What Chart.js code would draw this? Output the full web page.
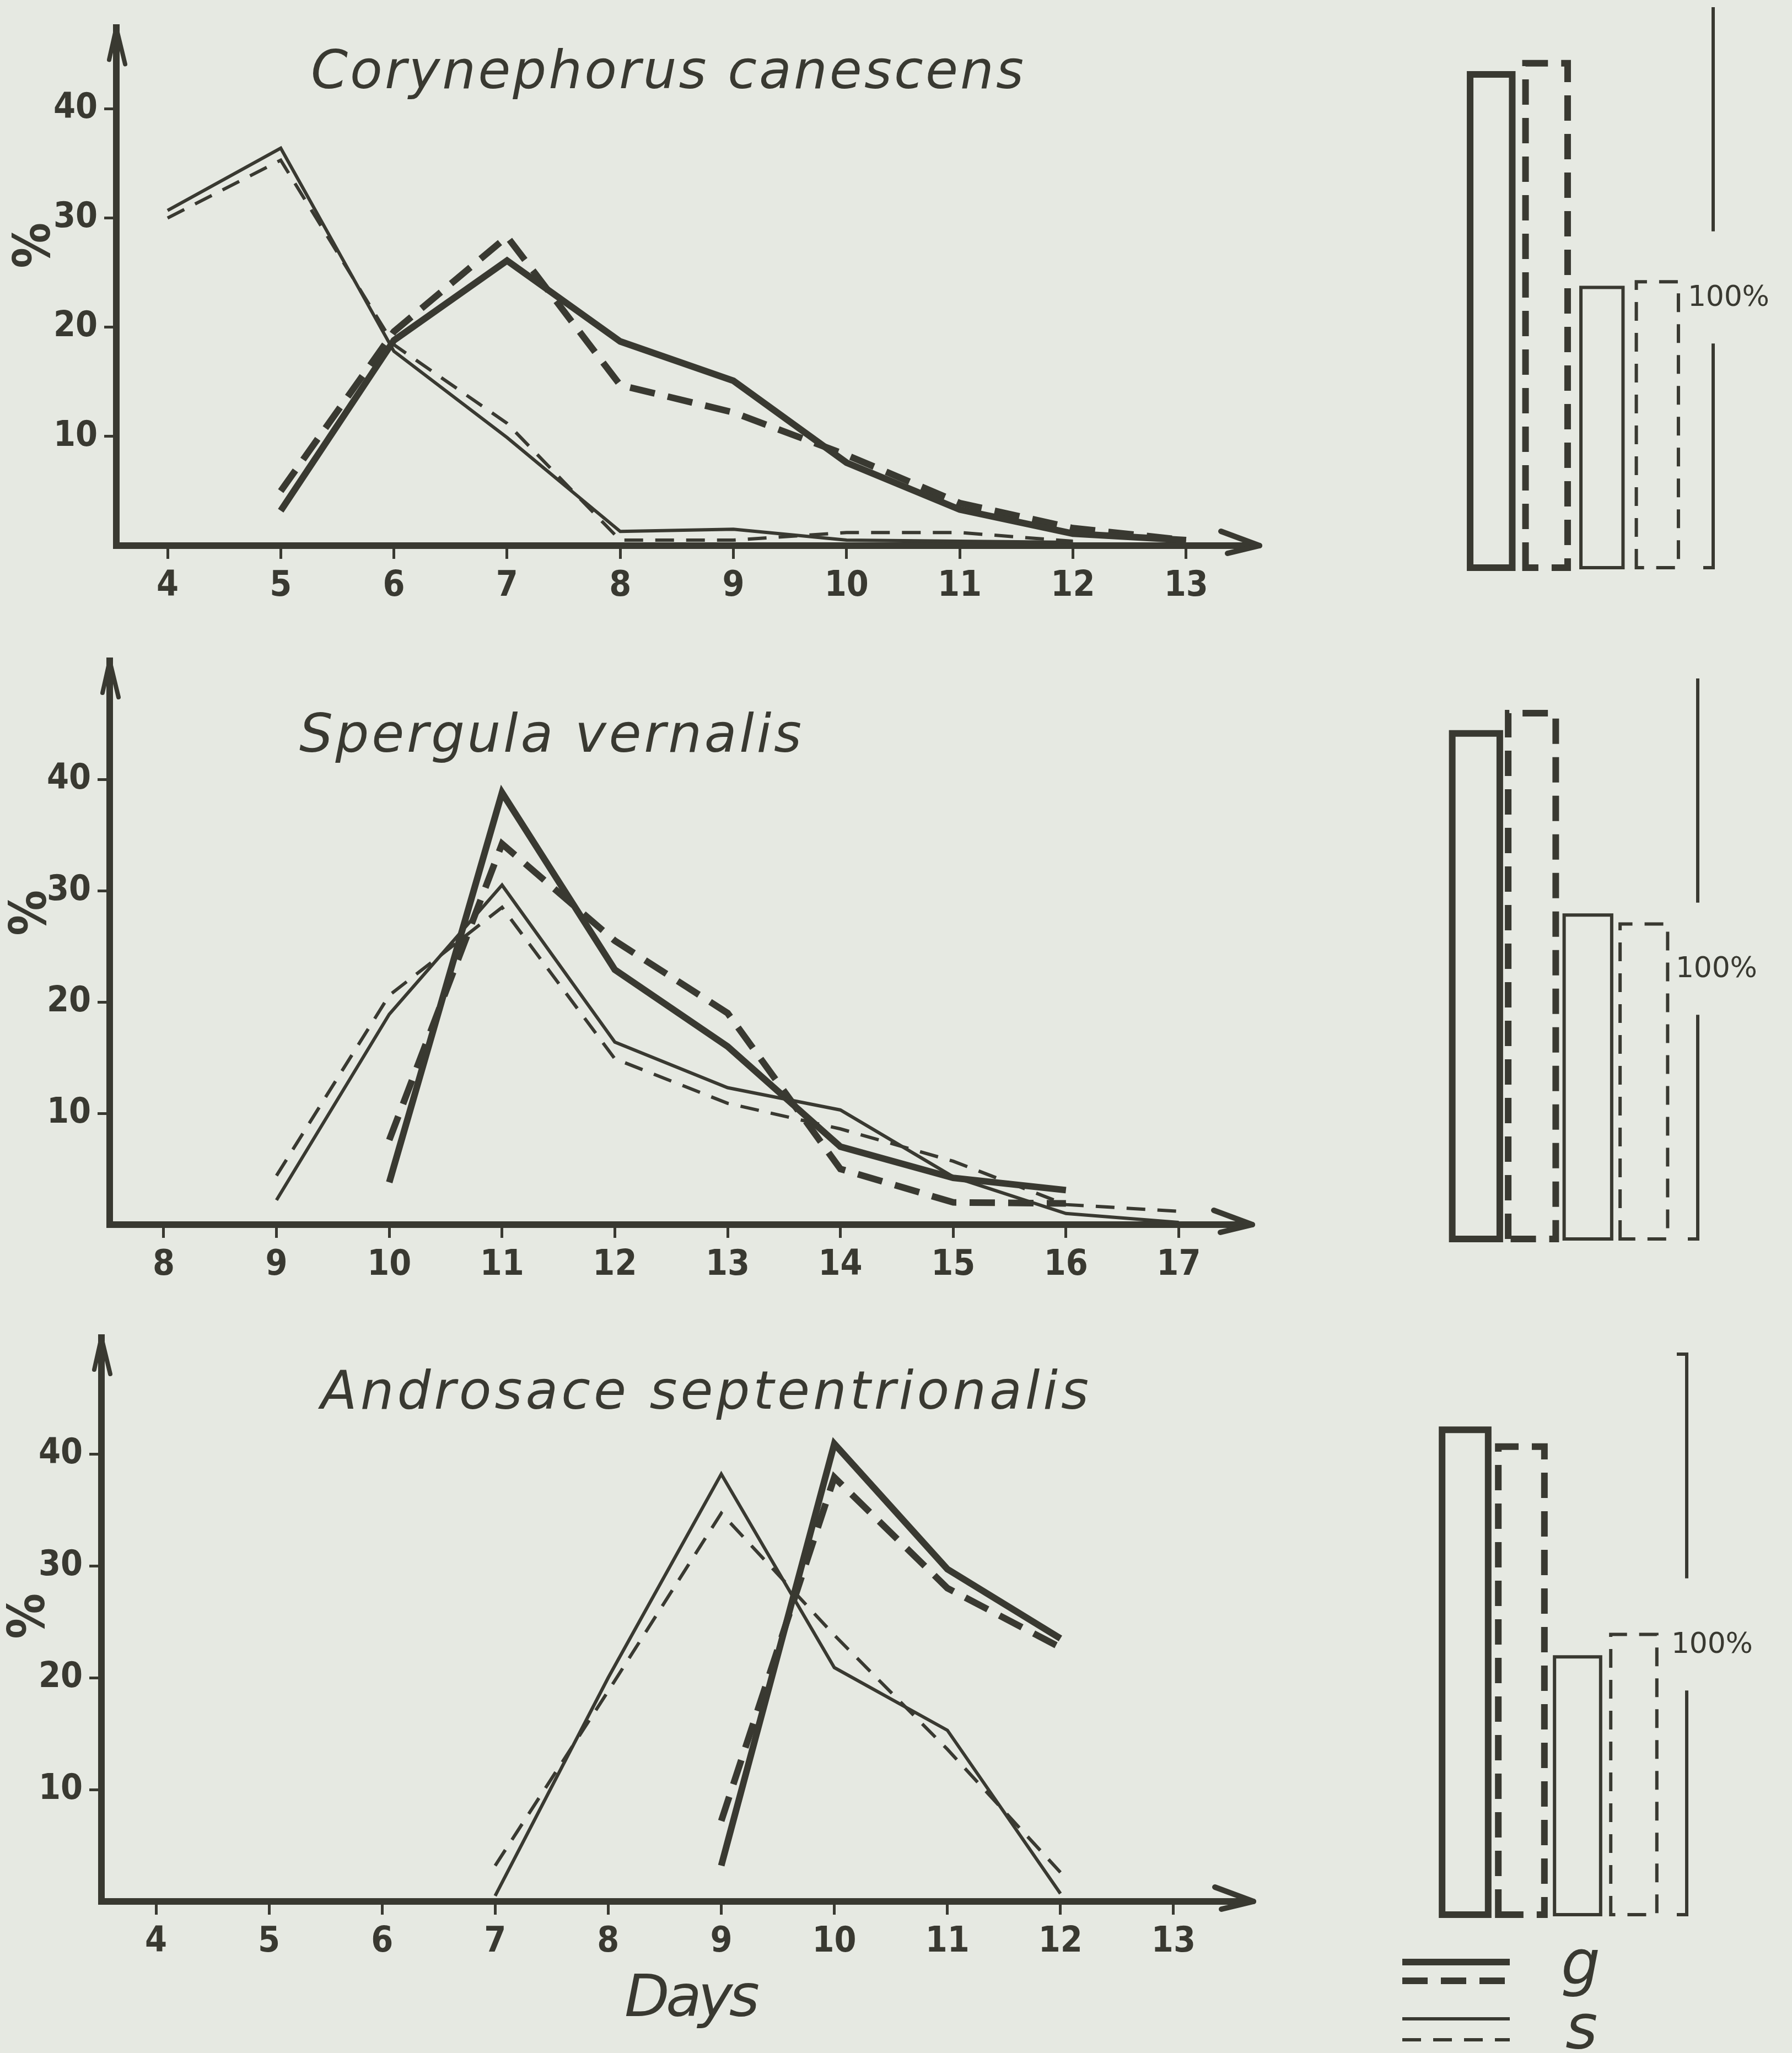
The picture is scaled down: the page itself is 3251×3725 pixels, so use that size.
<!DOCTYPE html>
<html><head><meta charset="utf-8">
<script src="https://cdn.jsdelivr.net/npm/chart.js@4.4.1/dist/chart.umd.min.js"></script>
<style>
html,body{margin:0;padding:0;background:#e6e9e2;}
#wrap{position:relative;width:3251px;height:3725px;overflow:hidden;background:#e6e9e2;}
canvas{position:absolute;left:0;top:0;}
</style></head><body><div id="wrap"></div>
<script>
// ---------------- DATA ----------------
// Corynephorus canescens
const corDaysSmall = [4,5,6,7,8,9,10,11,12];
const corSmallSolid = [30.7,36.4,17.8,9.9,1.3,1.5,0.5,0.4,0.3];
const corSmallDashed = [30.0,35.3,18.4,11.2,0.5,0.5,1.2,1.2,0.4];
const corDaysLarge = [5,6,7,8,9,10,11,12,13];
const corLargeSolid = [3.2,18.8,26.1,18.7,15.1,7.6,3.3,1.1,0.5];
const corLargeDashed = [5.0,19.6,28.3,14.7,12.2,8.3,3.9,1.6,0.5];
const corXTicks = [4,5,6,7,8,9,10,11,12,13];
const corTotals = [88,90,50,51];

// Spergula vernalis
const sperDaysSmall = [9,10,11,12,13,14,15,16,17];
const sperSmallSolid = [2.2,18.9,30.5,16.4,12.3,10.3,4.3,1.0,0.2];
const sperSmallDashed = [4.4,20.6,28.5,14.9,10.9,8.6,5.7,1.8,1.2];
const sperDaysLarge = [10,11,12,13,14,15,16];
const sperLargeSolid = [3.8,38.8,22.9,16.0,7.0,4.2,3.1];
const sperLargeDashed = [7.6,34.2,25.5,19.0,5.0,2.0,1.9];
const sperXTicks = [8,9,10,11,12,13,14,15,16,17];
const sperTotals = [90.2,93.8,57.8,56.2];

// Androsace septentrionalis
const andDaysSmall = [7,8,9,10,11,12];
const andSmallSolid = [0.5,20.0,38.2,20.9,15.3,0.7];
const andSmallDashed = [3.2,18.8,34.7,23.8,13.6,2.6];
const andDaysLarge = [9,10,11,12];
const andLargeSolid = [3.2,40.9,29.7,23.5];
const andLargeDashed = [7.2,37.9,28.0,22.7];
const andXTicks = [4,5,6,7,8,9,10,11,12,13];
const andTotals = [86.5,83.5,46,50];

const yTicks = [10,20,30,40];
const barCats = ['g solid','g dashed','s solid','s dashed'];
const titles = ['Corynephorus canescens','Spergula vernalis','Androsace septentrionalis'];
const xTitle = 'Days';
const yTitle = '%';
const totalLabel = '100%';

// ---------------- STYLE / LAYOUT ----------------
const W = 3251, H = 3725, INK = '#393931';
const TICKFONT = '"Liberation Sans Narrow","DejaVu Sans Condensed",sans-serif';
const TITLEFONT = '"DejaVu Sans","Open Sans",sans-serif';
const YW = 200, XH = 160;
const wrap = document.getElementById('wrap');

const styles = {
  sSolid: {w:6, dash:[]},
  sDashed:{w:6, dash:[34,22]},
  gSolid: {w:12, dash:[]},
  gDashed:{w:12, dash:[46,24]}
};

const panels = [
  {firstDay:4, x0:304, dayPx:205.3, left:211, right:2277, zeroY:990, pctPx:20.2, top:32,
   title:{x:564, base:160, w:1293}, pct:{dx:-145, v:27.5}},
  {firstDay:8, x0:297, dayPx:204.6, left:199, right:2264, zeroY:2222, pctPx:20.2, top:1199,
   title:{x:543, base:1364, w:911}, pct:{dx:-140, v:28}},
  {firstDay:4, x0:283, dayPx:205.1, left:184, right:2266, zeroY:3450, pctPx:20.3, top:2427,
   title:{x:582, base:2556, w:1393}, pct:{dx:-128, v:25.5}, days:{x:1133, base:3658, w:245}}
];

const barGeo = [
  {left:2655, right:3057, top:13, bottom:1030, bp:0.76, brX:3108, lblX:3062, topHook:false},
  {left:2627, right:3033, top:1231, bottom:2248, bp:0.85, brX:3080, lblX:3040, topHook:false},
  {left:2607, right:3015, top:2457, bottom:3474, bp:0.82, brX:3060, lblX:3032, topHook:true, legend:true}
];
const barStyles = [styles.gSolid, styles.gDashed, styles.sSolid, styles.sDashed];

function makeCanvas(){
  const c = document.createElement('canvas');
  c.width = W; c.height = H; c.style.width = W+'px'; c.style.height = H+'px';
  wrap.appendChild(c); return c;
}

function drawFit(ctx, text, font, x, base, targetW){
  ctx.font = font;
  const n = [...text].length;
  const w = ctx.measureText(text).width;
  if ('letterSpacing' in ctx && n > 1) {
    ctx.letterSpacing = ((targetW - w)/(n-1)) + 'px';
    ctx.fillText(text, x, base);
    ctx.letterSpacing = '0px';
  } else {
    ctx.save(); ctx.translate(x, base); ctx.scale(targetW/w, 1); ctx.fillText(text, 0, 0); ctx.restore();
  }
}

function line(ctx, x1,y1,x2,y2){ ctx.beginPath(); ctx.moveTo(x1,y1); ctx.lineTo(x2,y2); ctx.stroke(); }

const lineDecor = {
  id:'lineDecor',
  afterDraw(chart, args, opts){
    const g = opts.g; const ctx = chart.ctx; const a = chart.chartArea;
    ctx.save();
    ctx.strokeStyle = INK; ctx.fillStyle = INK; ctx.lineCap = 'round';
    // arrow on y axis
    ctx.lineWidth = 8;
    line(ctx, a.left, a.top, a.left - 13, a.top + 58);
    line(ctx, a.left, a.top, a.left + 16, a.top + 66);
    // arrow on x axis
    ctx.lineWidth = 10;
    line(ctx, a.right + 8, a.bottom, a.right - 62, a.bottom - 26);
    line(ctx, a.right + 8, a.bottom, a.right - 50, a.bottom + 14);
    // title
    ctx.textAlign = 'left'; ctx.textBaseline = 'alphabetic';
    drawFit(ctx, opts.title, 'oblique 500 96px '+TITLEFONT, g.title.x, g.title.base, g.title.w);
    // % label
    const yp = chart.scales.y.getPixelForValue(g.pct.v);
    ctx.save();
    ctx.translate(a.left + g.pct.dx, yp);
    ctx.rotate(-Math.PI/2);
    ctx.textAlign = 'center'; ctx.textBaseline = 'middle';
    ctx.font = 'bold 92px '+TICKFONT;
    ctx.fillText(yTitle, 0, 0);
    ctx.restore();
    if (g.days) {
      drawFit(ctx, xTitle, 'oblique 500 106px '+TITLEFONT, g.days.x, g.days.base, g.days.w);
    }
    ctx.restore();
  }
};

function lineChart(idx, sets, xt){
  const g = panels[idx];
  const xmin = g.firstDay + (g.left - g.x0)/g.dayPx;
  const xmax = g.firstDay + (g.right - g.x0)/g.dayPx;
  const ymax = (g.zeroY - g.top)/g.pctPx;
  new Chart(makeCanvas(), {
    type:'line',
    data:{datasets: sets.map(s => ({
      data: s.days.map((d,i) => ({x:d, y:s.vals[i]})),
      borderColor: INK, borderWidth: s.st.w, borderDash: s.st.dash,
      pointRadius: 0, tension: 0, fill: false,
      borderCapStyle: 'butt', borderJoinStyle: 'miter', clip: false
    }))},
    options:{
      responsive:false, animation:false, devicePixelRatio:1,
      layout:{padding:{left:g.left - YW, right:W - g.right, top:g.top, bottom:H - g.zeroY - XH}},
      plugins:{legend:{display:false}, tooltip:{enabled:false}, lineDecor:{g:g, title:titles[idx]}},
      scales:{
        x:{type:'linear', min:xmin, max:xmax,
           afterFit:s => { s.height = XH; },
           afterBuildTicks:s => { s.ticks = xt.map(v => ({value:v})); },
           grid:{display:true, drawOnChartArea:false, drawTicks:true, tickLength:24, tickWidth:5, tickColor:INK},
           border:{display:true, width:12, color:INK},
           ticks:{color:INK, font:{family:TICKFONT, size:64, weight:'bold'}, padding:12, autoSkip:false, maxRotation:0, callback:v => String(v)}},
        y:{type:'linear', min:0, max:ymax,
           afterFit:s => { s.width = YW; },
           afterBuildTicks:s => { s.ticks = yTicks.map(v => ({value:v})); },
           grid:{display:true, drawOnChartArea:false, drawTicks:true, tickLength:22, tickWidth:5, tickColor:INK},
           border:{display:true, width:12, color:INK},
           ticks:{color:INK, font:{family:TICKFONT, size:64, weight:'bold'}, padding:12, callback:v => String(v)}}
      }
    },
    plugins:[lineDecor]
  });
}

const barDecor = {
  id:'barDecor',
  afterDatasetsDraw(chart, args, opts){
    const b = opts.b; const ctx = chart.ctx;
    const ys = chart.scales.y;
    const meta = chart.getDatasetMeta(0);
    ctx.save();
    ctx.strokeStyle = INK; ctx.fillStyle = INK;
    meta.data.forEach((bar, i) => {
      const p = bar.getProps(['x','y','base','width'], true);
      const st = barStyles[i];
      const l = p.x - p.width/2, r = p.x + p.width/2;
      ctx.lineWidth = st.w; ctx.setLineDash(st.dash); ctx.lineCap = 'butt'; ctx.lineJoin = 'miter';
      ctx.beginPath();
      ctx.moveTo(l, p.base); ctx.lineTo(l, p.y); ctx.lineTo(r, p.y); ctx.lineTo(r, p.base); ctx.closePath();
      ctx.stroke();
    });
    ctx.setLineDash([]);
    // 100% bracket
    const y100 = ys.getPixelForValue(100), y0 = ys.getPixelForValue(0);
    const yUp = ys.getPixelForValue(60), yLo = ys.getPixelForValue(40), yLbl = ys.getPixelForValue(48);
    ctx.lineWidth = 6; ctx.lineCap = 'butt';
    line(ctx, b.brX, y100, b.brX, yUp);
    line(ctx, b.brX, yLo, b.brX, y0);
    line(ctx, b.brX + 3, y0, b.brX - 18, y0);
    if (b.topHook) line(ctx, b.brX + 3, y100, b.brX - 18, y100);
    ctx.textAlign = 'left'; ctx.textBaseline = 'middle';
    drawFit(ctx, totalLabel, '52px "DejaVu Sans",sans-serif', b.lblX, yLbl, 148);
    if (b.legend) {
      const lx1 = 2544, lx2 = 2739;
      const rows = [[styles.gSolid,3560],[styles.gDashed,3594],[styles.sSolid,3663],[styles.sDashed,3701]];
      rows.forEach(([st,y]) => { ctx.lineWidth = st.w; ctx.setLineDash(st.dash); line(ctx, lx1, y, lx2, y); });
      ctx.setLineDash([]);
      ctx.textBaseline = 'alphabetic';
      ctx.font = 'oblique 500 112px '+TITLEFONT;
      ctx.fillText('g', 2832, 3600);
      ctx.fillText('s', 2840, 3716);
    }
    ctx.restore();
  }
};

function barChart(idx, vals){
  const b = barGeo[idx];
  new Chart(makeCanvas(), {
    type:'bar',
    data:{labels:barCats, datasets:[{data:vals, backgroundColor:'rgba(0,0,0,0)', borderWidth:0, barPercentage:b.bp, categoryPercentage:1}]},
    options:{
      responsive:false, animation:false, devicePixelRatio:1,
      layout:{padding:{left:b.left, right:W - b.right, top:b.top, bottom:H - b.bottom}},
      plugins:{legend:{display:false}, tooltip:{enabled:false}, barDecor:{b:b}},
      scales:{x:{display:false}, y:{display:false, min:0, max:100}}
    },
    plugins:[barDecor]
  });
}

lineChart(0, [
  {days:corDaysSmall, vals:corSmallSolid, st:styles.sSolid},
  {days:corDaysSmall, vals:corSmallDashed, st:styles.sDashed},
  {days:corDaysLarge, vals:corLargeSolid, st:styles.gSolid},
  {days:corDaysLarge, vals:corLargeDashed, st:styles.gDashed}
], corXTicks);
lineChart(1, [
  {days:sperDaysSmall, vals:sperSmallSolid, st:styles.sSolid},
  {days:sperDaysSmall, vals:sperSmallDashed, st:styles.sDashed},
  {days:sperDaysLarge, vals:sperLargeSolid, st:styles.gSolid},
  {days:sperDaysLarge, vals:sperLargeDashed, st:styles.gDashed}
], sperXTicks);
lineChart(2, [
  {days:andDaysSmall, vals:andSmallSolid, st:styles.sSolid},
  {days:andDaysSmall, vals:andSmallDashed, st:styles.sDashed},
  {days:andDaysLarge, vals:andLargeSolid, st:styles.gSolid},
  {days:andDaysLarge, vals:andLargeDashed, st:styles.gDashed}
], andXTicks);
barChart(0, corTotals);
barChart(1, sperTotals);
barChart(2, andTotals);
</script>
</body></html>
